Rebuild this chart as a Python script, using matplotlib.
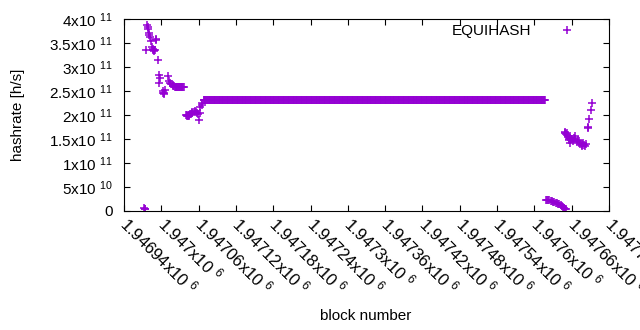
import numpy as np
import matplotlib
matplotlib.use('Agg')
import matplotlib.pyplot as plt

plt.rcParams['font.family'] = ['Liberation Sans', 'DejaVu Sans']
plt.rcParams['mathtext.fontset'] = 'custom'
plt.rcParams['mathtext.rm'] = 'Liberation Sans'
plt.rcParams['mathtext.it'] = 'Liberation Sans'
plt.rcParams['font.size'] = 11

# data: block number -> hashrate [h/s]
start_blocks = [1946972, 1946973, 1946974, 1946976, 1946977, 1946978, 1946979,
                1946980, 1946981, 1946982, 1946984, 1946985, 1946986, 1946987,
                1946988, 1946989, 1946990, 1946991, 1946992, 1946995, 1946996,
                1946997, 1946998, 1947002, 1947003, 1947004, 1947005, 1947006,
                1947011, 1947012, 1947014, 1947016, 1947018, 1947019, 1947021]
start_rates = [6e9, 4e9, 5e9, 3.36e11, 3.87e11, 3.84e11, 3.80e11,
               3.71e11, 3.66e11, 3.62e11, 3.54e11, 3.41e11, 3.38e11, 3.36e11,
               3.33e11, 3.35e11, 3.36e11, 3.59e11, 3.57e11, 3.15e11, 2.67e11,
               2.83e11, 2.77e11, 2.46e11, 2.49e11, 2.44e11, 2.45e11, 2.53e11,
               2.81e11, 2.70e11, 2.67e11, 2.64e11, 2.62e11, 2.61e11, 2.60e11]

# plateau at ~2.58e11
plateau1_blocks = np.arange(1947022, 1947037)
plateau1_rate = 2.58e11

mid_blocks = [1947040, 1947041, 1947042, 1947043, 1947044, 1947045, 1947046,
              1947047, 1947049, 1947050, 1947052, 1947054, 1947056, 1947058,
              1947059, 1947061, 1947062, 1947063, 1947065, 1947066]
mid_rates = [2.01e11, 2.00e11, 1.98e11, 1.97e11, 1.98e11, 2.00e11, 2.02e11,
             2.03e11, 2.05e11, 2.06e11, 2.07e11, 2.08e11, 2.06e11, 2.04e11,
             2.02e11, 1.90e11, 2.05e11, 2.16e11, 2.20e11, 2.25e11]

# long constant stretch
flat_blocks = np.arange(1947068, 1947618)
flat_rate = 2.31e11

low_blocks = [1947618, 1947620, 1947622, 1947624, 1947626, 1947628, 1947630,
              1947632, 1947634, 1947636, 1947638, 1947640, 1947642, 1947644,
              1947646, 1947648, 1947650, 1947651]
low_rates = [2.35e10, 2.30e10, 2.26e10, 2.20e10, 2.12e10, 2.05e10, 1.95e10,
             1.85e10, 1.75e10, 1.63e10, 1.50e10, 1.38e10, 1.22e10, 1.05e10,
             8.8e9, 7.0e9, 5.0e9, 3.5e9]

end_blocks = [1947649, 1947650, 1947651, 1947652, 1947653, 1947654, 1947655,
              1947656, 1947657, 1947658, 1947659, 1947660, 1947662, 1947664,
              1947665, 1947666, 1947668, 1947670, 1947672, 1947674, 1947676,
              1947677, 1947678, 1947680, 1947681, 1947683, 1947686, 1947687,
              1947688, 1947691, 1947693]
end_rates = [1.62e11, 1.64e11, 1.60e11, 1.63e11, 1.58e11, 1.55e11, 1.50e11,
             1.47e11, 1.41e11, 1.52e11, 1.49e11, 1.51e11, 1.45e11, 1.53e11,
             1.56e11, 1.48e11, 1.44e11, 1.47e11, 1.46e11, 1.40e11, 1.37e11,
             1.35e11, 1.41e11, 1.38e11, 1.36e11, 1.39e11, 1.72e11, 1.74e11,
             1.92e11, 2.10e11, 2.26e11]

xtick_vals = [1946940 + 60 * i for i in range(14)]
xtick_labels = ['1.94694', '1.947', '1.94706', '1.94712', '1.94718', '1.94724',
                '1.9473', '1.94736', '1.94742', '1.94748', '1.94754', '1.9476',
                '1.94766', '1.9477']
ytick_vals = [0, 5e10, 1e11, 1.5e11, 2e11, 2.5e11, 3e11, 3.5e11, 4e11]
ytick_labels = ['0', '5x10', '1x10', '1.5x10', '2x10', '2.5x10', '3x10', '3.5x10', '4x10']
ytick_exps = ['', '10', '11', '11', '11', '11', '11', '11', '11']

blocks = np.concatenate([start_blocks, plateau1_blocks, mid_blocks, flat_blocks,
                         low_blocks, end_blocks])
rates = np.concatenate([start_rates, np.full(len(plateau1_blocks), plateau1_rate),
                        mid_rates, np.full(len(flat_blocks), flat_rate),
                        low_rates, end_rates])

color = '#9400d3'

fig = plt.figure(figsize=(6.4, 3.3), dpi=100)
ax = fig.add_axes([124 / 640, 1 - 211 / 330, 485 / 640, 192 / 330])

ax.plot(blocks, rates, linestyle='none', marker='+', markersize=5.5,
        markeredgewidth=1.1, color=color, label='EQUIHASH')

ax.set_xlim(1946940, 1947720)
ax.set_ylim(0, 4e11)

ax.set_xticks(xtick_vals)
ax.set_xticklabels([s + r'x10 $^{6}$' for s in xtick_labels])
ax.set_yticks(ytick_vals)
ax.set_yticklabels([m + (r' $^{%s}$' % e if e else '') for m, e in zip(ytick_labels, ytick_exps)])

ax.tick_params(direction='in', top=True, right=True, length=4, width=0.8,
               labelsize=11, colors='black')
ax.tick_params(axis='y', pad=8)
ax.tick_params(axis='x', pad=7, labelsize=12)
for lab in ax.get_xticklabels():
    lab.set_rotation(-45)
    lab.set_ha('left')
    lab.set_va('center')
    lab.set_rotation_mode('anchor')

for sp in ax.spines.values():
    sp.set_linewidth(0.8)

fig.text(18 / 640, 1 - 115 / 330, 'hashrate [h/s]', rotation=90,
         ha='center', va='center', fontsize=11)
fig.text(366 / 640, 1 - 316 / 330, 'block number', ha='center', va='center', fontsize=11)

ax.legend(loc='center right', bbox_to_anchor=(0.944, 0.935), frameon=False,
          markerfirst=False, numpoints=1, borderpad=0, borderaxespad=0,
          handlelength=2.0, handletextpad=1.3, fontsize=11)

fig.savefig('out.png', dpi=100)
